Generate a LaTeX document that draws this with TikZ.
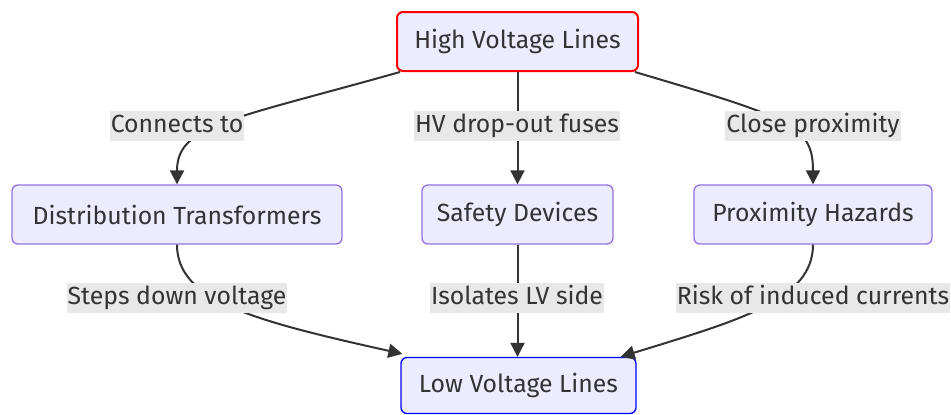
\documentclass[tikz,border=0pt]{standalone}
\usepackage{fontspec}
\setmainfont{Fira Sans}
\usetikzlibrary{arrows.meta}

\definecolor{boxfill}{HTML}{ECECFF}
\definecolor{boxline}{HTML}{9370DB}
\definecolor{ink}{HTML}{333333}
\definecolor{lblfill}{HTML}{E8E8E8}

\begin{document}
\begin{tikzpicture}[x=1pt, y=-1pt,
    every node/.style={font=\fontsize{24.8}{28}\selectfont, text=ink},
    box/.style={draw=boxline, fill=boxfill, line width=1.3pt, rounded corners=6pt, minimum height=59pt, inner sep=0pt},
    lbl/.style={fill=lblfill, inner xsep=1pt, inner ysep=3pt, text height=18pt, text depth=6pt},
    edge/.style={draw=ink, line width=2pt, -{Triangle[length=14pt, width=14pt]}}]

    \useasboundingbox (0,0) rectangle (951,415);

    % nodes
    \node[box, draw=red, line width=2pt, minimum width=241pt] (hv) at (517.5,41.5) {High Voltage Lines};
    \node[box, minimum width=330pt] (dt) at (177,214.5) {Distribution Transformers};
    \node[box, minimum width=191pt] (sd) at (517.5,214.5) {Safety Devices};
    \node[box, minimum width=238pt] (ph) at (813,214.5) {Proximity Hazards};
    \node[box, draw=blue, minimum width=235pt, minimum height=56pt] (lv) at (518.5,385.5) {Low Voltage Lines};

    % label positions
    \coordinate (c1) at (177,126);
    \coordinate (c2) at (517,126);
    \coordinate (c3) at (813,126);
    \coordinate (c4) at (177,298);
    \coordinate (c5) at (517,298);
    \coordinate (c6) at (813,298);

    % connectors
    \draw[edge] (hv.south west) ++(4,0) .. controls (230,120) and (177,125) .. (dt.north);
    \draw[edge] (hv.south) -- (sd.north);
    \draw[edge] (hv.south east) ++(-4,0) .. controls (790,118) and (813,125) .. (ph.north);
    \draw[edge] (dt.south) .. controls (177,300) and (250,320) .. ([xshift=2pt,yshift=3pt]lv.north west);
    \draw[edge] (sd.south) -- (lv.north -| sd.south);
    \draw[edge] (ph.south) .. controls (813,300) and (740,320) .. ([xshift=-16pt,yshift=0pt]lv.north east);

    % edge labels
    \node[lbl] (l1) at (c1) {Connects to};
    \node[lbl] (l2) at (c2) {HV drop-out fuses};
    \node[lbl] (l3) at (c3) {Close proximity};
    \node[lbl] (l4) at (c4) {Steps down voltage};
    \node[lbl] (l5) at (c5) {Isolates LV side};
    \node[lbl] (l6) at (c6) {Risk of induced currents};

\end{tikzpicture}
\end{document}
